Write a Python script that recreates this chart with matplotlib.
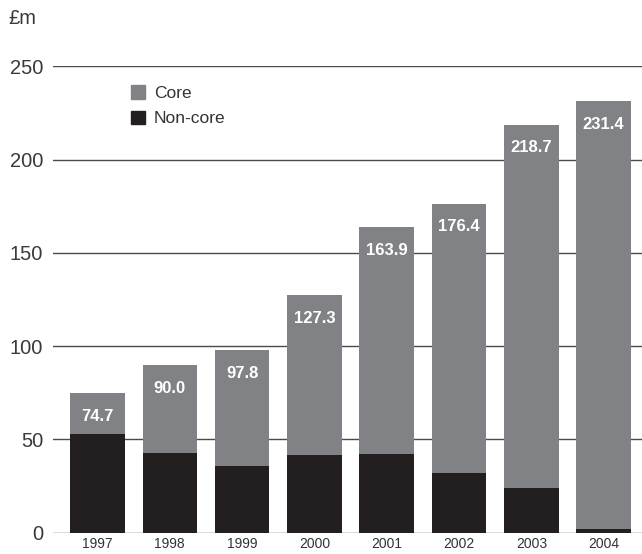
import matplotlib
matplotlib.use('Agg')
import matplotlib.pyplot as plt
from matplotlib.patches import Patch

years = ['1997', '1998', '1999', '2000', '2001', '2002', '2003', '2004']
totals = [74.7, 90.0, 97.8, 127.3, 163.9, 176.4, 218.7, 231.4]
non_core = [53.0, 42.7, 35.7, 41.6, 42.2, 32.0, 23.9, 2.0]
core = [t - n for t, n in zip(totals, non_core)]

core_color = '#818286'
non_core_color = '#231f20'

plt.rcParams['font.family'] = ['Liberation Sans', 'DejaVu Sans']

fig = plt.figure(figsize=(6.42, 5.54), dpi=100)
ax = fig.add_axes([53 / 642, 21.3 / 554, 589 / 642, 466.5 / 554])

x = list(range(len(years)))
ax.bar(x, non_core, width=0.754, color=non_core_color, zorder=3)
ax.bar(x, core, bottom=non_core, width=0.754, color=core_color, zorder=3)

for i, t in enumerate(totals):
    ax.text(i, t - 12.5, f'{t:.1f}', ha='center', va='center', color='white',
            fontsize=12, fontweight='bold', zorder=4)

ax.set_xlim(-0.615, 7.53)
ax.set_ylim(0, 250)
ax.set_yticks([0, 50, 100, 150, 200, 250])
ax.set_xticks(x)
ax.set_xticklabels(years)
ax.tick_params(axis='y', length=0, pad=7, labelsize=14.5, labelcolor='#3a3a3a')
ax.tick_params(axis='x', length=0, pad=3, labelsize=10, labelcolor='#333333')
ax.grid(axis='y', color='#4a4a4a', linewidth=1.0, zorder=1)
ax.set_axisbelow(True)
for s in ax.spines.values():
    s.set_visible(False)

fig.text(8 / 642, 1 - 18 / 554, '£m', fontsize=14.5, color='#3a3a3a', va='center', ha='left')

handles = [Patch(color=core_color, label='Core'), Patch(color=non_core_color, label='Non-core')]
fig.legend(handles=handles, loc='upper left', bbox_to_anchor=(128 / 642, 1 - 82 / 554),
           frameon=False, fontsize=12.5, handlelength=0.8, handleheight=0.8,
           handletextpad=0.5, labelspacing=0.55, borderaxespad=0, borderpad=0.2,
           labelcolor='#333333')

fig.savefig('out.png', dpi=100)
